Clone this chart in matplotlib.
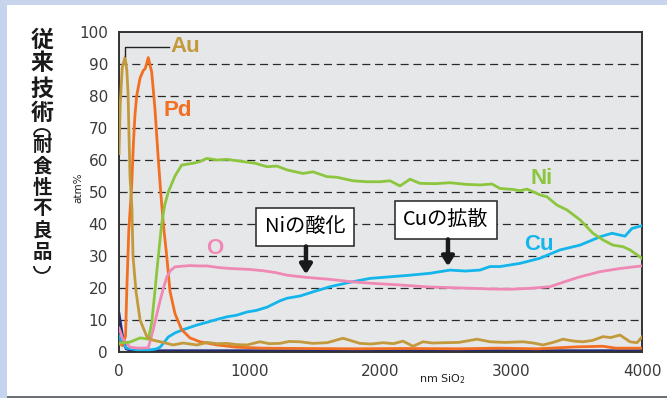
import matplotlib
matplotlib.use("Agg")
import matplotlib.pyplot as plt
from matplotlib.patches import Rectangle, Arc

plt.rcParams['lines.scale_dashes'] = False

# ---------------- data ----------------
au_nm = [0, 10, 25, 46, 60, 69, 84, 99, 107, 130, 161, 214, 260, 337, 413, 489, 597, 673, 750, 826, 900, 979,
         1078, 1150, 1231, 1300, 1384, 1480, 1591, 1713, 1843, 1930, 2019, 2100, 2172, 2249, 2325, 2400, 2478,
         2600, 2738, 2837, 2950, 3090, 3170, 3243, 3320, 3396, 3480, 3549, 3620, 3702, 3760, 3832, 3908, 3962, 4000]
au_val = [62, 78, 89, 92, 88, 81, 55, 45, 30, 19, 10, 4.7, 3.7, 3.0, 2.2, 2.8, 2.2, 3.0, 2.6, 2.7, 2.3, 2.2,
          3.2, 2.6, 2.7, 3.3, 3.2, 2.7, 2.9, 4.3, 2.7, 2.5, 2.9, 2.6, 3.4, 1.8, 3.2, 2.8, 2.9,
          3.0, 4.0, 3.2, 3.0, 3.2, 2.8, 2.2, 3.0, 4.0, 3.4, 3.2, 3.6, 4.8, 4.5, 5.3, 3.2, 2.9, 4.7]

pd_nm = [0, 25, 50, 60, 75, 97, 110, 122, 135, 161, 186, 200, 224, 250, 275, 301, 319, 339, 365, 390, 428,
         479, 543, 619, 750, 900, 1100, 1400, 1800, 2200, 2600, 2900, 3200, 3500, 3700, 3800, 4000]
pd_val = [3, 2, 5, 20, 38, 52, 65, 74, 80, 85.6, 88, 88.5, 92, 87.5, 76, 60, 50, 40, 30, 19, 12,
          7, 4.4, 3.2, 2.2, 1.5, 1.2, 1.1, 1.0, 1.1, 1.0, 1.2, 1.0, 1.6, 1.8, 1.2, 1.2]

ni_nm = [0, 8, 84, 161, 200, 224, 250, 270, 288, 326, 350, 377, 428, 479, 568, 619, 670, 750, 826, 948, 1040,
         1132, 1208, 1285, 1407, 1484, 1591, 1667, 1790, 1897, 1996, 2073, 2149, 2226, 2302, 2420, 2531, 2650,
         2761, 2853, 2914, 3013, 3067, 3120, 3166, 3220, 3273, 3350, 3426, 3526, 3625, 3702, 3778, 3855, 3908, 4000]
ni_val = [2.5, 2.8, 3.1, 4.4, 4.2, 4.0, 9, 17, 24.7, 40, 46, 50, 55, 58.4, 59, 59.5, 60.5, 60, 60.2, 59.5, 59,
          57.9, 58.1, 56.9, 55.8, 56.3, 54.8, 54.6, 53.5, 53.2, 53.2, 53.5, 51.9, 54.0, 52.7, 52.6, 52.9, 52.4,
          52.2, 52.5, 51.1, 50.8, 50.4, 50.9, 50.1, 49.1, 48.5, 45.9, 44.4, 41.3, 37.1, 35.0, 33.4, 32.9, 31.9, 29.3]

cu_nm = [0, 20, 59, 135, 237, 280, 314, 345, 377, 430, 492, 594, 683, 760, 826, 900, 979, 1050, 1132, 1231,
         1285, 1384, 1500, 1614, 1767, 1920, 2073, 2226, 2379, 2531, 2650, 2761, 2837, 2914, 3067, 3220, 3373,
         3526, 3679, 3770, 3870, 3923, 4000]
cu_val = [5, 3, 1.2, 0.7, 0.7, 0.9, 1.5, 3, 4.7, 6, 7, 8.4, 9.4, 10.3, 11, 11.5, 12.5, 13, 14, 16,
          16.8, 17.5, 19, 20.4, 21.8, 23, 23.5, 24, 24.6, 25.6, 25.3, 25.6, 26.7, 26.7, 27.7, 29.3, 31.9,
          33.4, 36, 37.1, 36.2, 38.6, 39.5]

o_nm = [0, 30, 84, 150, 224, 262, 290, 314, 340, 365, 395, 428, 480, 543, 610, 671, 760, 849, 1000, 1101, 1200,
        1285, 1438, 1614, 1767, 1920, 2126, 2379, 2631, 2837, 2990, 3143, 3296, 3411, 3526, 3679, 3832, 4000]
o_val = [7.5, 4, 1.5, 1.2, 1.3, 7, 12, 16, 20, 23.4, 25.5, 26.6, 26.8, 27, 26.9, 26.9, 26.4, 26.1, 25.8, 25.4, 24.8,
         24, 23.3, 22.7, 22, 21.5, 21, 20.3, 20, 19.7, 19.6, 19.9, 20.4, 22, 23.5, 25.1, 26.1, 26.9]

other_nm = [0, 15, 35, 55, 100, 4000]
other_val = [12, 8, 3, 1, 0.4, 0.4]

y_ticks = [0, 10, 20, 30, 40, 50, 60, 70, 80, 90, 100]
x_ticks = [0, 1000, 2000, 3000, 4000]

# ---------------- figure ----------------
W, H = 667, 398
fig = plt.figure(figsize=(W / 100, H / 100), dpi=100)
fig.patch.set_facecolor('white')

def fx(px):
    return px / W

def fy(py):
    return 1 - py / H

# background frame stripes
fig.patches.append(Rectangle((0, 0), fx(7), 1, transform=fig.transFigure, facecolor='#c4d4ec', edgecolor='none', zorder=0))
fig.patches.append(Rectangle((0, fy(5)), 1, 5 / H, transform=fig.transFigure, facecolor='#c8d3ec', edgecolor='none', zorder=0))
fig.patches.append(Rectangle((fx(7), 0), 1, 2 / H, transform=fig.transFigure, facecolor='#6b7077', edgecolor='none', zorder=0))

ax = fig.add_axes([fx(119), fy(352), fx(642) - fx(119), fy(32) - fy(352)])
ax.set_facecolor('#e6e7e9')
ax.set_xlim(0, 4000)
ax.set_ylim(0, 100)

for v in y_ticks[1:-1]:
    ax.axhline(v, color='#2a2a2a', lw=0.9, linestyle=(0, (5.8, 3.4)), zorder=1)

for s in ax.spines.values():
    s.set_color('#333333')
    s.set_linewidth(1.4)

ax.set_xticks(x_ticks)
ax.set_yticks(y_ticks)
ax.tick_params(length=0, labelsize=11, labelcolor='#3a3a3a', pad=8)
ax.tick_params(axis='x', pad=9)

lw = 2.0
ax.plot(other_nm, other_val, color='#232a7a', lw=lw, zorder=2)
ax.plot(cu_nm, cu_val, color='#13b5ea', lw=lw, zorder=3)
ax.plot(pd_nm, pd_val, color='#f26f22', lw=lw, zorder=3)
ax.plot(o_nm, o_val, color='#f088b5', lw=lw, zorder=3)
ax.plot(ni_nm, ni_val, color='#8cc63e', lw=lw, zorder=3)
ax.plot(au_nm, au_val, color='#c29a3c', lw=lw, zorder=4)

# series labels
lab_font = dict(family='Liberation Sans', fontweight='bold', fontsize=16)
ax.plot([46, 46, 385], [92.5, 95.4, 95.4], color='#222222', lw=1.0, zorder=5)
ax.text(395, 95.4, 'Au', color='#c29a3c', ha='left', va='center', **lab_font)
ax.text(451, 75.4, 'Pd', color='#f26f22', ha='center', va='center', **lab_font)
ax.text(3235, 54.2, 'Ni', color='#8cc63e', ha='center', va='center', **lab_font)
ax.text(3212, 33.7, 'Cu', color='#13b5ea', ha='center', va='center', **lab_font)
ax.text(734, 32.2, 'O', color='#f088b5', ha='center', va='center', **lab_font)

# annotation boxes with arrows
box_font = dict(family=['Noto Sans CJK JP', 'DejaVu Sans'], fontsize=14.5)
bbox = dict(boxstyle='square,pad=0.42', facecolor='white', edgecolor='#222222', linewidth=1.1)
ax.text(1422, 39.0, 'Niの酸化', ha='center', va='center', bbox=bbox, zorder=6, **box_font)
ax.text(2500, 41.3, 'Cuの拡散', ha='center', va='center', bbox=bbox, zorder=6, **box_font)
arrow = dict(arrowstyle='-|>,head_width=0.35,head_length=0.55', color='#1a1a1a', lw=3.2, shrinkA=0, shrinkB=0)
ax.annotate('', xy=(1430, 24.3), xytext=(1430, 33.0), arrowprops=arrow, zorder=6)
ax.annotate('', xy=(2516, 26.8), xytext=(2516, 35.2), arrowprops=arrow, zorder=6)

# axis labels
fig.text(fx(78), fy(188), 'atm%', rotation=90, ha='center', va='center', fontsize=7.5, color='#222222')
fig.text(fx(442), fy(379), 'nm SiO$_2$', ha='center', va='center', fontsize=8, color='#222222')

# vertical title
cjk = ['Noto Sans CJK JP', 'DejaVu Sans']
main_chars = ['従', '来', '技', '術']
main_y = [40, 64, 89, 114]
for ch, yy in zip(main_chars, main_y):
    fig.text(fx(42), fy(yy), ch, family=cjk, fontweight='bold', fontsize=16.5, ha='center', va='center', color='#1a1a1a')
sub_chars = ['耐', '食', '性', '不', '良', '品']
sub_y = [146, 167, 188, 209, 231, 253]
for ch, yy in zip(sub_chars, sub_y):
    fig.text(fx(42), fy(yy), ch, family=cjk, fontweight='bold', fontsize=14, ha='center', va='center', color='#1a1a1a')
# vertical-text parentheses drawn as arcs (inch coordinates)
fig.patches.append(Arc((42 / 100, (H - 135) / 100), 0.16, 0.12, theta1=0, theta2=180,
                       transform=fig.dpi_scale_trans, color='#1a1a1a', lw=1.3))
fig.patches.append(Arc((42 / 100, (H - 266) / 100), 0.16, 0.14, theta1=180, theta2=360,
                       transform=fig.dpi_scale_trans, color='#1a1a1a', lw=1.3))

fig.savefig('out.png', dpi=100, facecolor=fig.get_facecolor())
